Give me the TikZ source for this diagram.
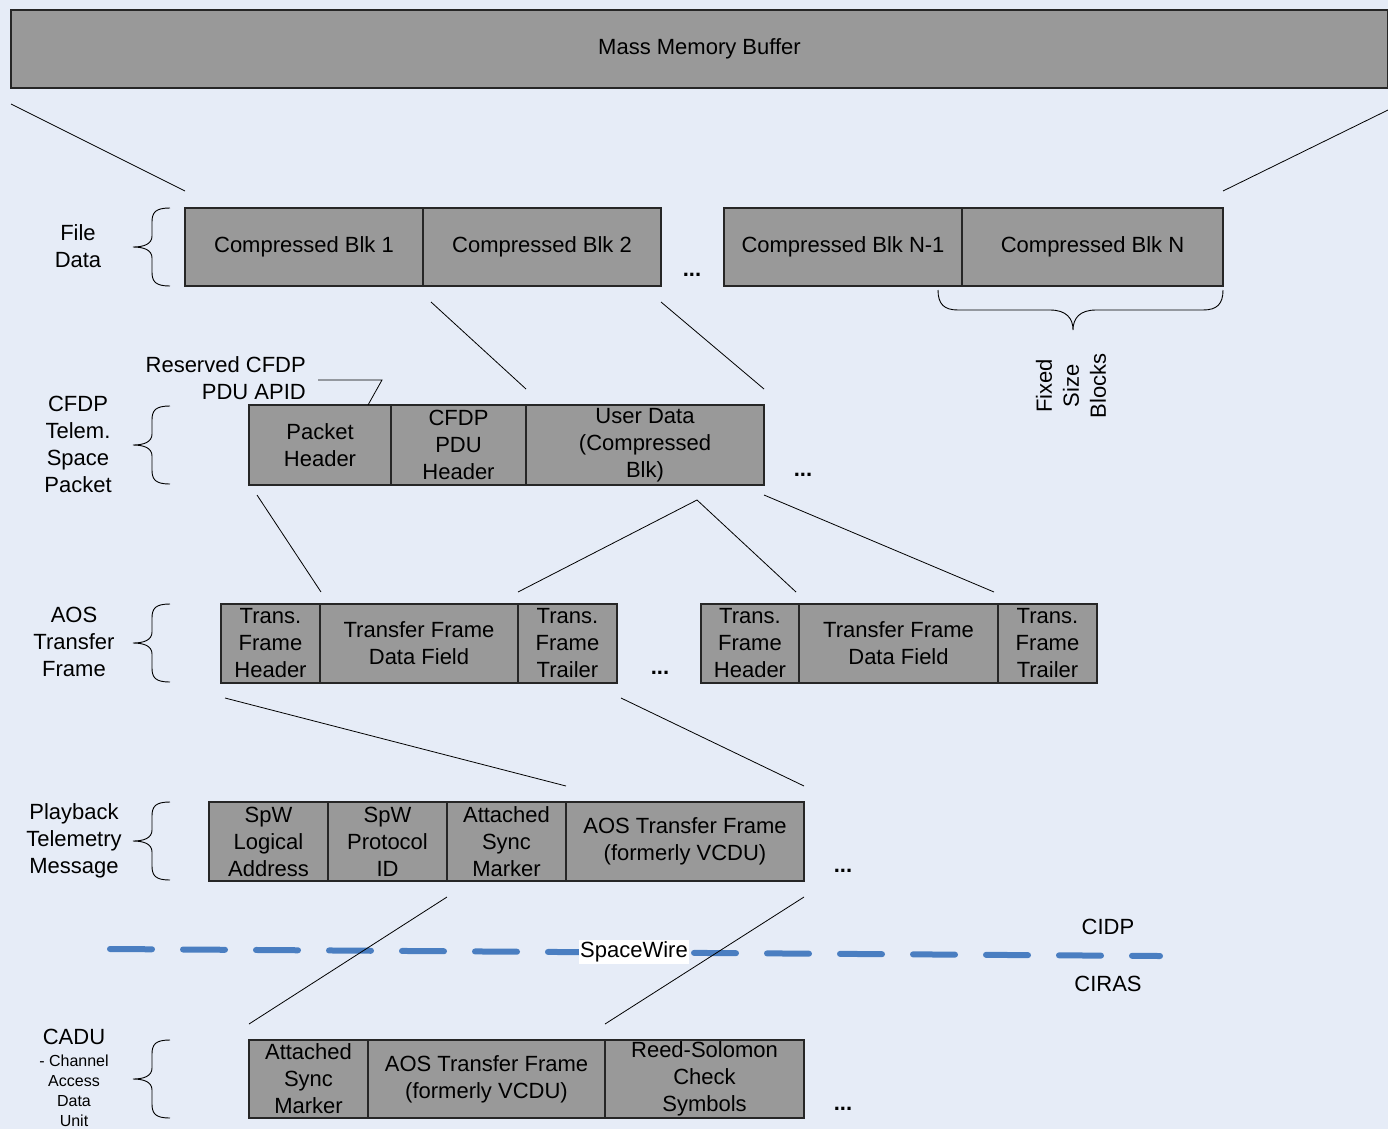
\documentclass[tikz,border=0pt]{standalone}
\usepackage{fontspec}
\setmainfont{Liberation Sans}
\definecolor{bgc}{RGB}{230,236,247}
\definecolor{cellc}{RGB}{153,153,153}
\definecolor{swblue}{RGB}{74,126,193}
\tikzset{
  lbrace/.pic={\draw[line width=0.9bp] (0,0) .. controls (-14,0) and (-18,4) .. (-18,14) -- (-18,28) .. controls (-18,36) and (-26,39) .. (-37,39) .. controls (-26,39) and (-18,42) .. (-18,50) -- (-18,64) .. controls (-18,74) and (-14,78) .. (0,78);}
}
\newcommand\mycell[6]{\node[cell, minimum width={(#4-#2)*1bp}, minimum height={(#5-#3)*1bp}] (#1) at ({(#2+#4)/2},{(#3+#5)/2}) {#6};}
\begin{document}
\begin{tikzpicture}[x=1bp,y=-1bp,
  every node/.style={font=\fontsize{22bp}{27bp}\selectfont, inner sep=0pt, align=center},
  cell/.style={draw=black!85, line width=1.2bp, fill=cellc, inner sep=0pt},
  conn/.style={line width=0.8bp, black},
  dots/.style={font=\fontsize{22bp}{27bp}\selectfont\bfseries, anchor=base},
  smalltxt/.style={font=\fontsize{16bp}{20bp}\selectfont}
  ]
\fill[bgc] (0,0) rectangle (1388,1129);
\useasboundingbox (0,0) rectangle (1388,1129);

% Mass memory buffer
\mycell{mmb}{11}{10}{1388}{88}{Mass Memory Buffer}

% Row 1: file data
\mycell{b1}{185}{208}{423}{286}{Compressed Blk 1}
\mycell{b2}{423}{208}{661}{286}{Compressed Blk 2}
\mycell{bn1}{724}{208}{962}{286}{Compressed Blk N-1}
\mycell{bn}{962}{208}{1223}{286}{Compressed Blk N}
\node[dots] (d1) at (692,276) {...};
\node (lfile) at (78,246) {File\\Data};
\pic at (170,208) {lbrace};

% fixed size blocks brace
\draw[line width=0.9bp] (938,290) .. controls (938,304) and (944,310) .. (958,310) -- (1050,310) .. controls (1066,310) and (1073,318) .. (1073,330) .. controls (1073,318) and (1080,310) .. (1096,310) -- (1203,310) .. controls (1217,310) and (1223,304) .. (1223,290);
\node[rotate=90] (fsb) at (1071,386) {Fixed\\Size\\Blocks};

% Row 2: CFDP
\mycell{ph}{249}{405}{391}{485}{Packet\\Header}
\mycell{pdu}{391}{405}{526}{485}{CFDP\\PDU\\Header}
\mycell{ud}{526}{405}{764}{485}{User Data\\(Compressed\\Blk)}
\node[dots] (d2) at (803,476) {...};
\node (lcfdp) at (78,444) {CFDP\\Telem.\\Space\\Packet};
\pic at (170,406) {lbrace};
\node[align=right, anchor=east] (rsv) at (306,378.5) {Reserved CFDP\\PDU APID};
\coordinate (rl1) at (318,380);
\coordinate (rl2) at (382,380);
\coordinate (rl3) at (368,405);
\draw[conn] (rl1) -- (rl2) -- (rl3);

% Row 3: AOS
\mycell{a1h}{221}{604}{320}{683}{Trans.\\Frame\\Header}
\mycell{a1d}{320}{604}{518}{683}{Transfer Frame\\Data Field}
\mycell{a1t}{518}{604}{617}{683}{Trans.\\Frame\\Trailer}
\mycell{a2h}{701}{604}{799}{683}{Trans.\\Frame\\Header}
\mycell{a2d}{799}{604}{998}{683}{Transfer Frame\\Data Field}
\mycell{a2t}{998}{604}{1097}{683}{Trans.\\Frame\\Trailer}
\node[dots] (d3) at (660,674) {...};
\node (laos) at (74,642) {AOS\\Transfer\\Frame};
\pic at (170,604) {lbrace};

% Row 4: Playback
\mycell{p1}{209}{802}{328}{881}{SpW\\Logical\\Address}
\mycell{p2}{328}{802}{447}{881}{SpW\\Protocol\\ID}
\mycell{p3}{447}{802}{566}{881}{Attached\\Sync\\Marker}
\mycell{p4}{566}{802}{804}{881}{AOS Transfer Frame\\(formerly VCDU)}
\node[dots] (d4) at (843,872) {...};
\node (lpb) at (74,841) {Playback\\Telemetry\\Message};
\pic at (170,802) {lbrace};

% Row 5: CADU
\mycell{c1}{249}{1040}{368}{1118}{Attached\\Sync\\Marker}
\mycell{c2}{368}{1040}{605}{1118}{AOS Transfer Frame\\(formerly VCDU)}
\mycell{c3}{605}{1040}{804}{1118}{Reed-Solomon\\Check\\Symbols}
\node[dots] (d5) at (843,1110) {...};
\node (lcadu) at (74,1037) {CADU};
\node[smalltxt] (lcadus) at (74,1091) {- Channel\\Access\\Data\\Unit};
\pic at (170,1040) {lbrace};

% SpaceWire dashed boundary
\coordinate (swl) at (110,949);
\coordinate (swr) at (1160,956);
\draw[swblue, line width=6bp, line cap=round, dash pattern=on 42bp off 31bp] (swl) -- (swr);
\node (cidp) at (1108,927) {CIDP};
\node (ciras) at (1108,984) {CIRAS};

% connectors
\coordinate (m1) at (11,104);   \coordinate (m1e) at (185,191);
\coordinate (m2) at (1388,110); \coordinate (m2e) at (1223,191);
\draw[conn] (m1) -- (m1e);
\draw[conn] (m2) -- (m2e);
\coordinate (f1) at (431,302);  \coordinate (f1e) at (526,389);
\coordinate (f2) at (661,302);  \coordinate (f2e) at (764,389);
\draw[conn] (f1) -- (f1e);
\draw[conn] (f2) -- (f2e);
\coordinate (c1s) at (257,495); \coordinate (c1e) at (321,592);
\coordinate (apex) at (697,500);
\coordinate (c2e) at (518,592); \coordinate (c3e) at (796,592);
\coordinate (c4s) at (764,495); \coordinate (c4e) at (994,592);
\draw[conn] (c1s) -- (c1e);
\draw[conn] (c2e) -- (apex) -- (c3e);
\draw[conn] (c4s) -- (c4e);
\coordinate (t1s) at (225,698); \coordinate (t1e) at (566,786);
\coordinate (t2s) at (621,698); \coordinate (t2e) at (804,786);
\draw[conn] (t1s) -- (t1e);
\draw[conn] (t2s) -- (t2e);
\coordinate (s1s) at (447,897); \coordinate (s1e) at (249,1024);
\coordinate (s2s) at (804,897); \coordinate (s2e) at (605,1024);
\draw[conn] (s1s) -- (s1e);
\draw[conn] (s2s) -- (s2e);

\node[fill=white, inner sep=1.5bp] (sw) at (634,952) {SpaceWire};
\end{tikzpicture}
\end{document}
